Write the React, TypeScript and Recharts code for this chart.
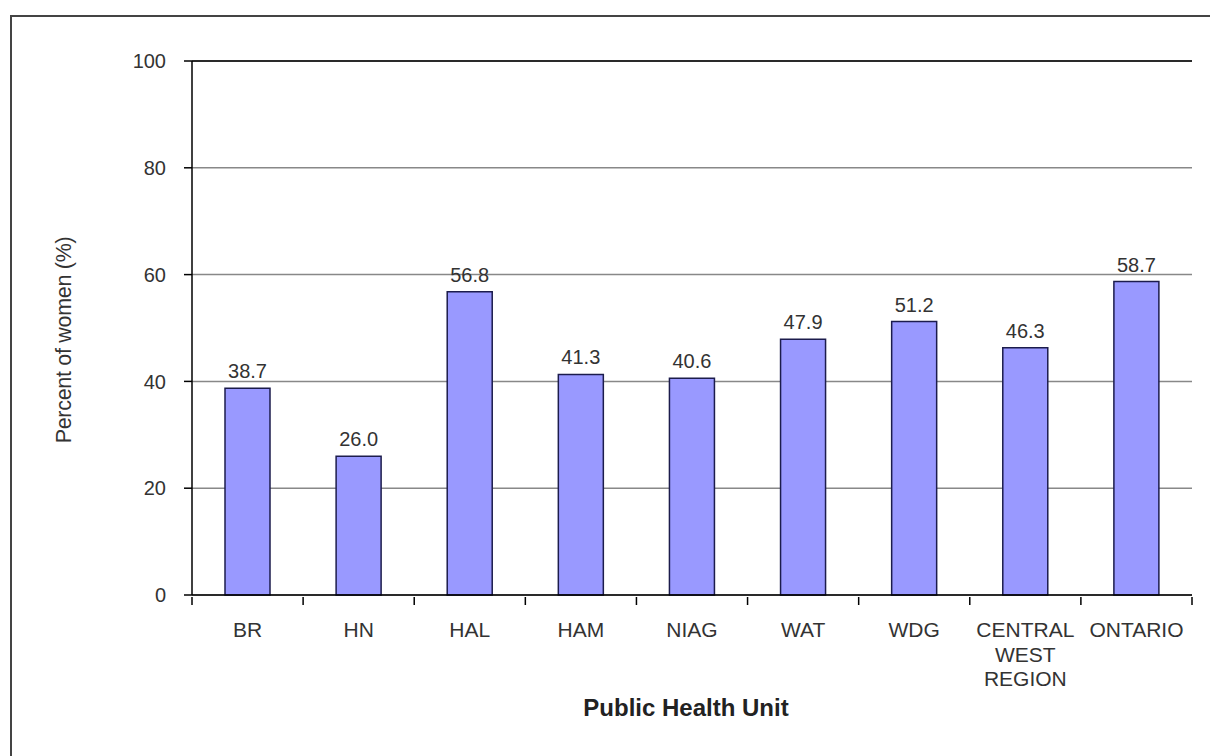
import { Bar, BarChart, CartesianGrid, LabelList, ReferenceLine, XAxis, YAxis } from 'recharts';

const categories = ['BR', 'HN', 'HAL', 'HAM', 'NIAG', 'WAT', 'WDG', 'CENTRAL WEST REGION', 'ONTARIO'];
const tickLines = [['BR'], ['HN'], ['HAL'], ['HAM'], ['NIAG'], ['WAT'], ['WDG'], ['CENTRAL', 'WEST', 'REGION'], ['ONTARIO']];
const percentWomen = [38.7, 26.0, 56.8, 41.3, 40.6, 47.9, 51.2, 46.3, 58.7];
const yTicks = [0, 20, 40, 60, 80, 100];

const data = categories.map((name, i) => ({ name, value: percentWomen[i], lines: tickLines[i] }));

const FONT = '"Liberation Sans", Arial, sans-serif';
const TEXT = '#333';

const CategoryTick = (props: any) => {
    const { x, y, payload, index } = props;
    const half = payload.offset || 0;
    const lines = tickLines[index] || [payload.value];
    return (
        <g>
            <line x1={x - half} y1={y - 6} x2={x - half} y2={y + 2} stroke="#000" strokeWidth={1.5} />
            {index === categories.length - 1 && (
                <line x1={x + half} y1={y - 6} x2={x + half} y2={y + 2} stroke="#000" strokeWidth={1.5} />
            )}
            <text x={x} y={y + 34} textAnchor="middle" fill={TEXT} fontSize={21} fontFamily={FONT}>
                {lines.map((l: string, i: number) => (
                    <tspan key={l} x={x} dy={i === 0 ? 0 : 24.5}>{l}</tspan>
                ))}
            </text>
        </g>
    );
};

const App = () => {
    return (
        <div style={{ position: 'absolute', left: 0, top: 0, width: 1210, height: 756, overflow: 'hidden', background: '#fff' }}>
            <div style={{ position: 'absolute', left: 10, top: 15, width: 1400, height: 900, border: '2px solid #444' }} />
            <div style={{ position: 'absolute', left: 0, top: 0 }}>
                <BarChart
                    width={1210}
                    height={756}
                    data={data}
                    margin={{ top: 61, right: 18, bottom: 11, left: 132 }}
                    barSize={45}
                >
                    <CartesianGrid vertical={false} stroke="#888" strokeWidth={1.5} />
                    <XAxis
                        dataKey="name"
                        height={150}
                        interval={0}
                        axisLine={{ stroke: '#000', strokeWidth: 1.5 }}
                        tickLine={false}
                        tick={<CategoryTick />}
                        label={{
                            content: ({ viewBox }: any) => (
                                <text
                                    x={viewBox.x + viewBox.width / 2 - 6}
                                    y={716}
                                    textAnchor="middle"
                                    fill="#222"
                                    fontSize={24}
                                    fontWeight="bold"
                                    fontFamily={FONT}
                                >
                                    Public Health Unit
                                </text>
                            ),
                        }}
                    />
                    <YAxis
                        width={60}
                        domain={[0, 100]}
                        ticks={yTicks}
                        axisLine={{ stroke: '#000', strokeWidth: 1.5 }}
                        tickLine={{ stroke: '#000', strokeWidth: 1.5 }}
                        tickSize={8}
                        tickMargin={18}
                        tick={{ fill: TEXT, fontSize: 20, fontFamily: FONT }}
                        label={{
                            content: ({ viewBox }: any) => (
                                <text
                                    x={0}
                                    y={0}
                                    transform={`translate(64, ${viewBox.y + viewBox.height / 2 + 12}) rotate(-90)`}
                                    textAnchor="middle"
                                    dominantBaseline="central"
                                    fill={TEXT}
                                    fontSize={21.5}
                                    letterSpacing={-0.3}
                                    fontFamily={FONT}
                                >
                                    Percent of women (%)
                                </text>
                            ),
                        }}
                    />
                    <YAxis
                        yAxisId="right"
                        orientation="right"
                        width={0}
                        domain={[0, 100]}
                        tick={false}
                        tickLine={false}
                        axisLine={{ stroke: '#000', strokeWidth: 1.5 }}
                    />
                    <ReferenceLine y={100} stroke="#000" strokeWidth={1.5} />
                    <Bar dataKey="value" fill="#9999ff" stroke="#1c1c4c" strokeWidth={1.5} isAnimationActive={false}>
                        <LabelList
                            dataKey="value"
                            position="top"
                            offset={10}
                            formatter={(v: any) => Number(v).toFixed(1)}
                            fill={TEXT}
                            fontSize={20}
                            fontFamily={FONT}
                        />
                    </Bar>
                </BarChart>
            </div>
        </div>
    );
};

export default App;
